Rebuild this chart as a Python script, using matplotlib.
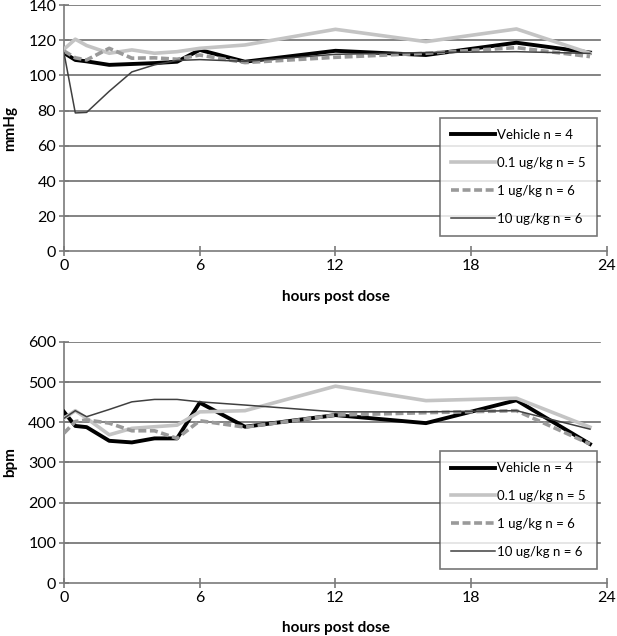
import matplotlib.pyplot as plt

plt.rcParams['font.family'] = ['Lato', 'DejaVu Sans']

# hours post dose
hours = [0, 0.5, 1, 2, 3, 4, 5, 6, 8, 12, 16, 20, 23.25]

# blood pressure (mmHg)
bp_vehicle = [112.8, 108.8, 108, 106, 106.5, 107, 107.8, 114.5, 107.8, 114, 111.6, 118.6, 113]
bp_01 = [114.9, 120.6, 117, 112.6, 114.5, 112.6, 113.5, 115.4, 117.3, 126.2, 119.2, 126.4, 112.6]
bp_1 = [113.9, 110, 108.8, 115.4, 109.8, 110, 109.2, 111.6, 107.3, 110.3, 112.6, 115.8, 110.7]
bp_10 = [112.8, 78.7, 79, 91, 102, 106, 108.5, 109, 108, 112, 113, 113.5, 112.5]

# heart rate (bpm)
hr_vehicle = [426, 391, 388, 354, 350, 360, 360, 449, 389, 418, 398, 455, 346]
hr_01 = [410, 429, 410, 369, 385, 389, 393, 426, 429, 490, 454, 460, 388]
hr_1 = [373, 402, 406, 398, 379, 379, 360, 404, 388, 418, 424, 429, 346]
hr_10 = [410, 429, 414, 432, 451, 457, 457, 451, 443, 426, 426, 429, 383]

labels = ['Vehicle n = 4', '0.1 ug/kg n = 5', '1 ug/kg n = 6', '10 ug/kg n = 6']
styles = [
    dict(color='black', lw=2.8, ls='-'),
    dict(color='#c4c4c4', lw=2.6, ls='-'),
    dict(color='#9a9a9a', lw=2.6, ls=(0, (2.2, 1))),
    dict(color='#404040', lw=1.1, ls='-'),
]

axis_col = '#7a7a7a'


def draw(ax, series, ymax, ystep, ylabel, leg_top):
    for i in range(0, ymax + 1, ystep):
        if i > 0:
            ax.plot([0, 23.7], [i, i], color='#6e6e6e', lw=1.2, zorder=1)
    for vals, lab, st in zip(series, labels, styles):
        ax.plot(hours, vals, label=lab, zorder=3, **st)
    ax.set_xlim(0, 24)
    ax.set_ylim(0, ymax)
    ax.set_xticks([0, 6, 12, 18, 24])
    ax.set_yticks(range(0, ymax + 1, ystep))
    for s in ['top', 'right']:
        ax.spines[s].set_visible(False)
    for s in ['left', 'bottom']:
        ax.spines[s].set_color(axis_col)
        ax.spines[s].set_linewidth(1.2)
    ax.tick_params(direction='inout', length=7, width=1.2, color=axis_col,
                   labelsize=11.5, pad=2)
    ax.set_xlabel('hours post dose', fontsize=11, fontweight='bold', labelpad=12)
    ax.set_ylabel(ylabel, fontsize=11, fontweight='bold', labelpad=8)
    leg = ax.legend(loc='upper right', bbox_to_anchor=(0.982, leg_top),
                    fontsize=9.5, frameon=True, fancybox=False,
                    handlelength=3.3, handletextpad=0.2, labelspacing=1.2,
                    borderpad=0.85, borderaxespad=0)
    leg.get_frame().set_edgecolor('#555555')
    leg.get_frame().set_linewidth(1.2)
    leg.set_zorder(5)


fig = plt.figure(figsize=(6.17, 6.36), dpi=100)
ax1 = fig.add_axes([0.1037, 0.6046, 0.88, 0.3875])
ax2 = fig.add_axes([0.1037, 0.0833, 0.88, 0.379])

draw(ax1, [bp_vehicle, bp_01, bp_1, bp_10], 140, 20, 'mmHg', 0.542)
draw(ax2, [hr_vehicle, hr_01, hr_1, hr_10], 600, 100, 'bpm', 0.548)

plt.savefig('out.png', dpi=100)
